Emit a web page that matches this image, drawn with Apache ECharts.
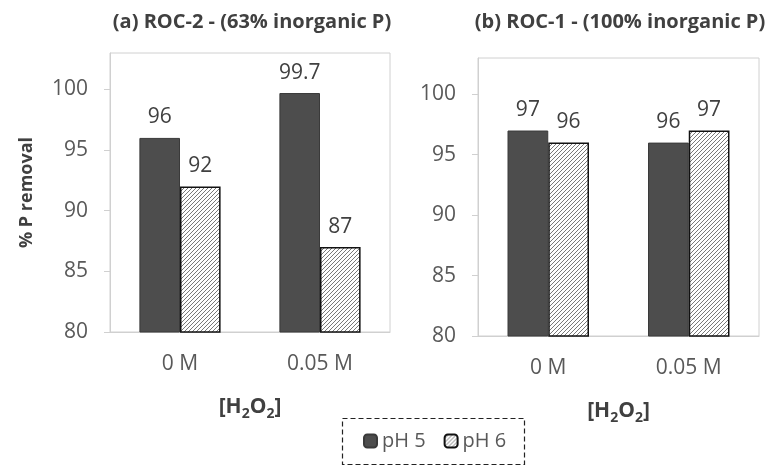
<!DOCTYPE html>
<html>
<head>
<meta charset="UTF-8">
<title>P removal</title>
<script src="https://cdn.jsdelivr.net/npm/echarts@6/dist/echarts.min.js"></script>
<style>
  html, body { margin: 0; padding: 0; background: #fff; }
  #main { width: 781px; height: 469px; }
</style>
</head>
<body>
<div id="main"></div>
<script>
// data
var categories = ['0 M', '0.05 M'];
var seriesNames = ['pH 5', 'pH 6'];
var roc2_pH5 = [96, 99.7];
var roc2_pH6 = [92, 87];
var roc1_pH5 = [97, 96];
var roc1_pH6 = [96, 97];
var yTicks = { min: 80, max: 103, interval: 5 };
var titles = ['(a) ROC-2 - (63% inorganic P)', '(b) ROC-1 - (100% inorganic P)'];

var font = '"Open Sans", "Liberation Sans", sans-serif';
var dark = '#4d4d4d';

// diagonal hatch for pH 6
function hatch() {
  var n = 4;
  var c = document.createElement('canvas');
  c.width = n; c.height = n;
  var g = c.getContext('2d');
  g.fillStyle = '#fff';
  g.fillRect(0, 0, n, n);
  g.strokeStyle = '#6a6a6a';
  g.lineWidth = 0.9;
  g.beginPath();
  g.moveTo(0, n); g.lineTo(n, 0);
  g.moveTo(-1, 1); g.lineTo(1, -1);
  g.moveTo(n - 1, n + 1); g.lineTo(n + 1, n - 1);
  g.stroke();
  return { image: c, repeat: 'repeat' };
}
var hatchFill = hatch();

var chart = echarts.init(document.getElementById('main'));

function yAxis(idx, showName) {
  return {
    type: 'value', gridIndex: idx,
    min: yTicks.min, max: yTicks.max, interval: yTicks.interval,
    name: showName ? '% P removal' : '',
    nameLocation: 'middle', nameGap: 74,
    nameTextStyle: { fontFamily: font, fontWeight: 'bold', fontSize: 18, color: '#404040' },
    axisLine: { show: true, lineStyle: { color: '#d0d0d0' } },
    axisTick: { show: true, length: 6, lineStyle: { color: '#d0d0d0' } },
    splitLine: { show: false },
    axisLabel: { fontFamily: font, fontSize: 21, color: '#595959', margin: 22,
      showMaxLabel: false }
  };
}

function xAxis(idx) {
  return {
    type: 'category', gridIndex: idx, data: categories,
    name: '[H{s|2}O{s|2}]',
    nameLocation: 'middle', nameGap: 62,
    nameTextStyle: {
      fontFamily: font, fontWeight: 'bold', fontSize: 21, color: '#404040',
      rich: { s: { fontFamily: font, fontWeight: 'bold', fontSize: 14, color: '#404040', verticalAlign: 'bottom', padding: [13, 0, 0, 0] } }
    },
    axisLine: { lineStyle: { color: '#d0d0d0' } },
    axisTick: { show: false },
    axisLabel: { fontFamily: font, fontSize: 21, color: '#595959', margin: 22 }
  };
}

function bars(name, data, idx, hatched) {
  return {
    name: name, type: 'bar', xAxisIndex: idx, yAxisIndex: idx,
    data: data, barGap: '0%', barCategoryGap: '42%',
    itemStyle: hatched
      ? { color: hatchFill, borderColor: '#111', borderWidth: 1.5 }
      : { color: dark, borderColor: '#3a3a3a', borderWidth: 1 },
    label: { show: true, position: 'top', distance: 10,
      fontFamily: font, fontSize: 21, color: '#404040' }
  };
}

var option = {
  backgroundColor: '#fff',
  animation: false,
  title: [
    { text: titles[0], left: 247, top: 7, textAlign: 'center',
      textStyle: { fontFamily: font, fontWeight: 'bold', fontSize: 20, color: '#404040' } },
    { text: titles[1], left: 615, top: 7, textAlign: 'center',
      textStyle: { fontFamily: font, fontWeight: 'bold', fontSize: 20, color: '#404040' } }
  ],
  grid: [
    { left: 110, top: 53, width: 280, height: 279, show: true, borderColor: '#d0d0d0', borderWidth: 1 },
    { left: 478, top: 58, width: 281, height: 278, show: true, borderColor: '#d0d0d0', borderWidth: 1 }
  ],
  xAxis: [xAxis(0), xAxis(1)],
  yAxis: [yAxis(0, true), yAxis(1, false)],
  legend: {
    data: seriesNames, left: 358, top: 426,
    itemWidth: 13, itemHeight: 13, itemGap: 18,
    textStyle: { fontFamily: font, fontSize: 20, color: '#595959' }
  },
  graphic: [{
    type: 'rect', left: 340, top: 416,
    shape: { width: 182, height: 46 },
    style: { fill: 'none', stroke: '#222', lineWidth: 1.2, lineDash: [5, 3] }
  }],
  series: [
    bars(seriesNames[0], roc2_pH5, 0, false),
    bars(seriesNames[1], roc2_pH6, 0, true),
    bars(seriesNames[0], roc1_pH5, 1, false),
    bars(seriesNames[1], roc1_pH6, 1, true)
  ]
};
chart.setOption(option);
</script>
</body>
</html>
